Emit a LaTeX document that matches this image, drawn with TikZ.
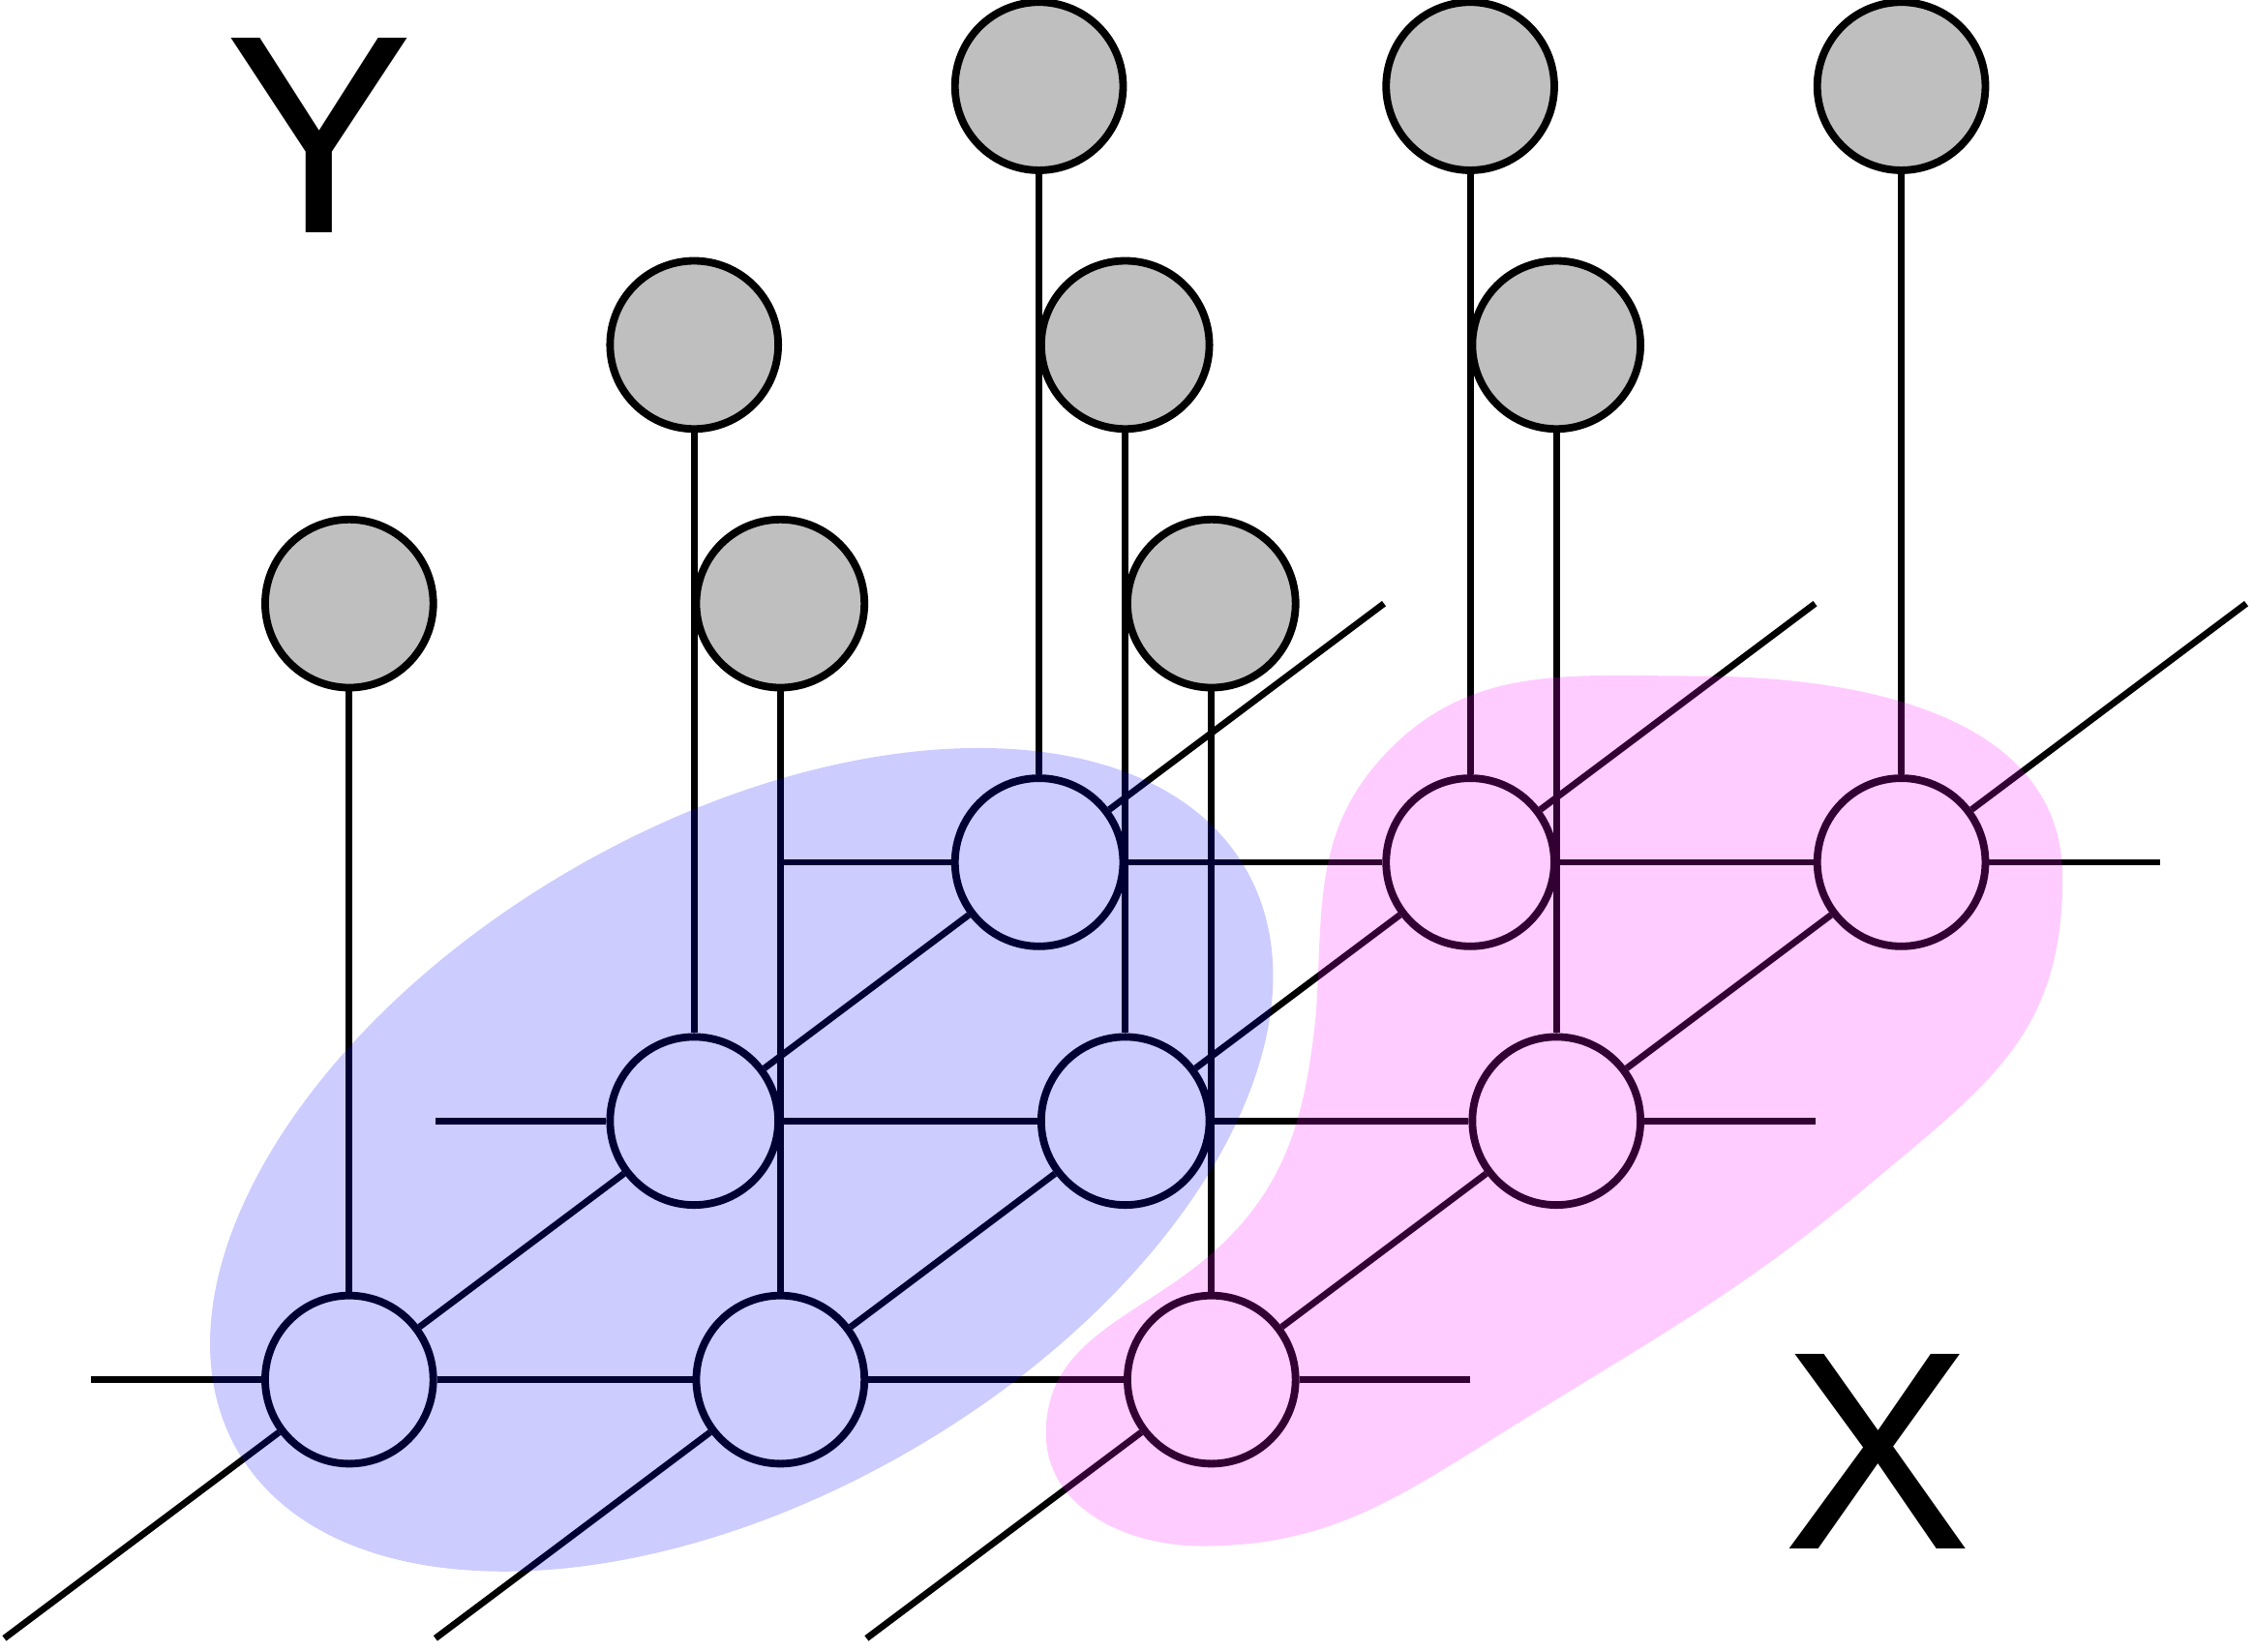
\documentclass[tikz,border=0pt]{standalone}
\usepackage{fontspec}
\setmainfont{Liberation Sans}
\usepackage{tikz}

\definecolor{groupblue}{RGB}{0,0,255}
\definecolor{grouppink}{RGB}{255,0,255}

\begin{document}
\begin{tikzpicture}[
            x=0.6cm, y=0.6cm,
            xnode/.style={circle, draw, line width=1.5pt, fill=white, minimum size=1.17cm, inner sep=0pt},
            ynode/.style={xnode, fill=gray!50},
            edge/.style={-, line width=1.3pt},
            group/.style={fill opacity=0.2},
            letter/.style={font=\fontsize{56}{60}\selectfont, inner sep=0pt}
        ]

        \useasboundingbox (-4.05,-3.158) rectangle (22.09,16.0);

        % Lattice nodes (front, middle, back row)
        \node[xnode] (X11) at (0, 0) {};
        \node[xnode] (X12) at (5, 0) {};
        \node[xnode] (X13) at (10, 0) {};
        \node[xnode] (X21) at (4, 3) {};
        \node[xnode] (X22) at (9, 3) {};
        \node[xnode] (X23) at (14, 3) {};
        \node[xnode] (X31) at (8, 6) {};
        \node[xnode] (X32) at (13, 6) {};
        \node[xnode] (X33) at (18, 6) {};

        % Output nodes above the lattice
        \node[ynode] (Y11) at (0, 9) {};
        \node[ynode] (Y12) at (5, 9) {};
        \node[ynode] (Y13) at (10, 9) {};
        \node[ynode] (Y21) at (4, 12) {};
        \node[ynode] (Y22) at (9, 12) {};
        \node[ynode] (Y23) at (14, 12) {};
        \node[ynode] (Y31) at (8, 15) {};
        \node[ynode] (Y32) at (13, 15) {};
        \node[ynode] (Y33) at (18, 15) {};

        % Free line ends
        \coordinate (L1) at (-3, 0);
        \coordinate (R1) at (13, 0);
        \coordinate (L2) at (1, 3);
        \coordinate (R2) at (17, 3);
        \coordinate (L3) at (5, 6);
        \coordinate (R3) at (21, 6);
        \coordinate (B1) at (-4, -3);
        \coordinate (T1) at (12, 9);
        \coordinate (B2) at (1, -3);
        \coordinate (T2) at (17, 9);
        \coordinate (B3) at (6, -3);
        \coordinate (T3) at (22, 9);

        % Rows
        \draw[edge] (L1) -- (X11) -- (X12) -- (X13) -- (R1);
        \draw[edge] (L2) -- (X21) -- (X22) -- (X23) -- (R2);
        \draw[edge] (L3) -- (X31) -- (X32) -- (X33) -- (R3);

        % Depth
        \draw[edge] (B1) -- (X11) -- (X21) -- (X31) -- (T1);
        \draw[edge] (B2) -- (X12) -- (X22) -- (X32) -- (T2);
        \draw[edge] (B3) -- (X13) -- (X23) -- (X33) -- (T3);

        % Verticals
        \draw[edge] (X11) -- (Y11);
        \draw[edge] (X12) -- (Y12);
        \draw[edge] (X13) -- (Y13);
        \draw[edge] (X21) -- (Y21);
        \draw[edge] (X22) -- (Y22);
        \draw[edge] (X23) -- (Y23);
        \draw[edge] (X31) -- (Y31);
        \draw[edge] (X32) -- (Y32);
        \draw[edge] (X33) -- (Y33);

        % Groups
        \fill[group, groupblue, rotate around={30:(4.55, 2.55)}] (4.55, 2.55) ellipse (6.75 and 3.9);
        \fill[group, grouppink] (15.6, 8.16)
            to[out=0, in=90] (19.87, 5.82)
            to[out=-90, in=40, looseness=1.1] (17.65, 2.28)
            to[out=220, in=32] (13.4, -0.6)
            to[out=212, in=0] (9.89, -1.93)
            to[out=180, in=-90] (8.08, -0.62)
            to[out=90, in=220] (9.93, 1.4)
            to[out=40, in=-96] (11.21, 4.22)
            to[out=86, in=227] (12.0, 7.24)
            to[out=47, in=180] cycle;

        % Labels
        \node[letter] (Y) at (-0.35, 14.425) {Y};
        \node[letter] (X) at (17.725, -0.833) {X};

    \end{tikzpicture}
\end{document}
